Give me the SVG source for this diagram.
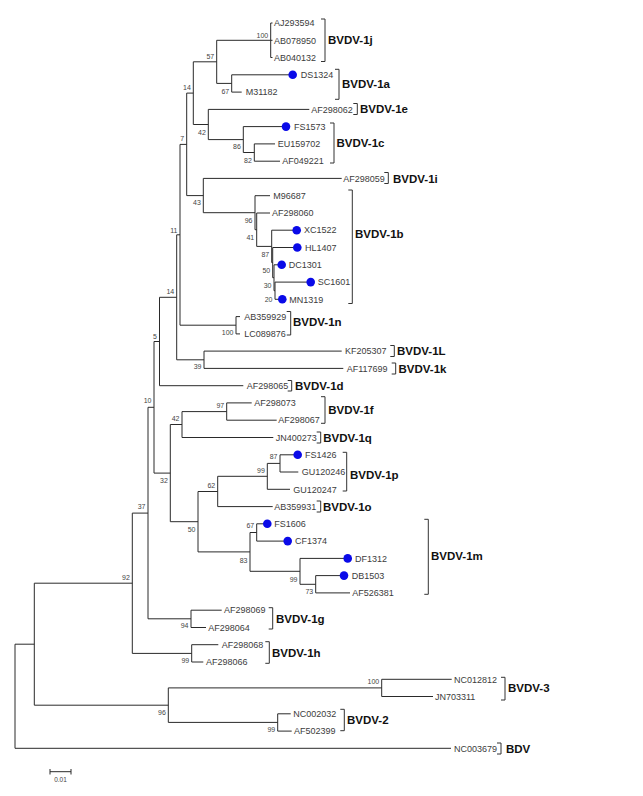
<svg xmlns="http://www.w3.org/2000/svg" width="643" height="796" viewBox="0 0 643 796">
<style>
.br{fill:none;stroke:#2a2a2a;stroke-width:1}
.bk{fill:none;stroke:#333;stroke-width:1}
.lf{font-family:"Liberation Sans",Arial,sans-serif;font-size:9px;fill:#3c3c3c}
.bs{font-family:"Liberation Sans",Arial,sans-serif;font-size:7px;fill:#444;text-anchor:end}
.cl{font-family:"Liberation Sans",Arial,sans-serif;font-size:11.5px;font-weight:bold;fill:#111}
.dot{fill:#0a0ae8}
</style>
<rect width="643" height="796" fill="#fff"/>
<g id="connectors">
<path class="br" d="M15,644.2V748.3M15,644.2H34.3M15,748.3H451
M34.3,583.2V705.2M34.3,583.2H132.3M34.3,705.2H168.3
M168.3,687.9V722.4M168.3,687.9H381.7M168.3,722.4H277.7
M381.7,679.3V696.5M381.7,679.3H451.7M381.7,696.5H433
M277.7,713.8V731.1M277.7,713.8H290.7M277.7,731.1H291.7
M132.3,513.1V653.4M132.3,513.1H148M132.3,653.4H191.7
M191.7,644.7V662M191.7,644.7H218.3M191.7,662H203.3
M148,407.3V618.8M148,407.3H154M148,618.8H191
M191,610.2V627.5M191,610.2H221.7M191,627.5H206
M154,341.5V473.1M154,341.5H159.5M154,473.1H170.3
M170.3,424.5V521.7M170.3,424.5H182M170.3,521.7H198
M182,411.6V437.5M182,411.6H226.7M182,437.5H273.3
M226.7,402.9V420.2M226.7,402.9H251.7M226.7,420.2H276.7
M198,491.5V551.9M198,491.5H217.7M198,551.9H250
M217.7,476.3V506.6M217.7,476.3H267.3M217.7,506.6H272.7
M267.3,463.4V489.3M267.3,463.4H280M267.3,489.3H290
M280,454.8V472M280,454.8H297.7M280,472H298.3
M250,532.5V571.3M250,532.5H256.7M250,571.3H300
M256.7,523.8V541.1M256.7,523.8H267.3M256.7,541.1H287.7
M300,558.4V584.3M300,558.4H347.7M300,584.3H315.7
M315.7,575.6V592.9M315.7,575.6H344M315.7,592.9H350
M159.5,297.3V385.7M159.5,297.3H176.7M159.5,385.7H243.3
M176.7,234.8V359.8M176.7,234.8H180M176.7,359.8H204
M204,351.1V368.4M204,351.1H341.7M204,368.4H343.3
M180,144.4V325.2M180,144.4H186.7M180,325.2H236
M236,316.6V333.9M236,316.6H240M236,333.9H240
M186.7,93.1V195.6M186.7,93.1H193.3M186.7,195.6H203.3
M203.3,178.4V212.7M203.3,178.4H341.7M203.3,212.7H255
M255,195.7V229.7M255,195.7H270M255,229.7H256.7
M256.7,213V246.4M256.7,213H270M256.7,246.4H271.7
M271.7,230.2V262.6M271.7,230.2H296.7M271.7,262.6H272.7
M272.7,247.5V277.7M272.7,247.5H297.3M272.7,277.7H274
M274,264.8V290.7M274,264.8H281.7M274,290.7H275
M275,282.1V299.3M275,282.1H310.7M275,299.3H282.3
M193.3,61.8V124.5M193.3,61.8H216.7M193.3,124.5H208.3
M216.7,40.3V83.4M216.7,40.3H270.7M216.7,83.4H231.7
M270.7,23V57.5M270.7,23H272.5M270.7,40.3H272.5M270.7,57.5H272.5
M231.7,74.8V92.1M231.7,74.8H292.7M231.7,92.1H241.7
M208.3,109.4V139.6M208.3,109.4H309.3M208.3,139.6H243.3
M243.3,126.6V152.5M243.3,126.6H286M243.3,152.5H254.3
M254.3,143.9V161.2M254.3,143.9H275M254.3,161.2H280"/>
</g>
<g id="bootstrap">
<text class="bs" x="268.2" y="38.2">100</text>
<text class="bs" x="214.2" y="59.2">57</text>
<text class="bs" x="229.2" y="94.2">67</text>
<text class="bs" x="190.8" y="90.2">14</text>
<text class="bs" x="205.8" y="135.2">42</text>
<text class="bs" x="240.8" y="149.2">86</text>
<text class="bs" x="251.8" y="163.2">82</text>
<text class="bs" x="184.2" y="140.8">7</text>
<text class="bs" x="200.8" y="205.2">43</text>
<text class="bs" x="252.5" y="222.5">96</text>
<text class="bs" x="254.2" y="239.5">41</text>
<text class="bs" x="269.2" y="256.8">87</text>
<text class="bs" x="270.2" y="272.5">50</text>
<text class="bs" x="271.5" y="288.2">30</text>
<text class="bs" x="272.5" y="301.5">20</text>
<text class="bs" x="177.5" y="232.5">11</text>
<text class="bs" x="174.2" y="293.5">14</text>
<text class="bs" x="233.5" y="335.2">100</text>
<text class="bs" x="201.5" y="369.2">39</text>
<text class="bs" x="157" y="338.5">5</text>
<text class="bs" x="151.5" y="403.2">10</text>
<text class="bs" x="179.5" y="420.8">42</text>
<text class="bs" x="224.2" y="407.5">97</text>
<text class="bs" x="167.8" y="483.2">32</text>
<text class="bs" x="277.5" y="458.5">87</text>
<text class="bs" x="264.8" y="473.2">99</text>
<text class="bs" x="215.2" y="487.5">62</text>
<text class="bs" x="195.5" y="531.8">50</text>
<text class="bs" x="254.2" y="527.5">67</text>
<text class="bs" x="247.5" y="562.5">83</text>
<text class="bs" x="297.5" y="581.5">99</text>
<text class="bs" x="313.2" y="594.2">73</text>
<text class="bs" x="145.5" y="509.2">37</text>
<text class="bs" x="129.8" y="579.5">92</text>
<text class="bs" x="188.5" y="627.5">94</text>
<text class="bs" x="189.2" y="663">99</text>
<text class="bs" x="379.2" y="684.2">100</text>
<text class="bs" x="165.8" y="715.2">96</text>
<text class="bs" x="275.2" y="731.8">99</text>
</g>
<g id="leaves">
<g id="AJ293594"><text class="lf" x="274" y="26.2">AJ293594</text></g>
<g id="AB078950"><text class="lf" x="274" y="43.5">AB078950</text></g>
<g id="AB040132"><text class="lf" x="274" y="60.7">AB040132</text></g>
<g id="DS1324"><circle class="dot" cx="292.7" cy="74.8" r="4.3"/><text class="lf" x="300.7" y="78">DS1324</text></g>
<g id="M31182"><text class="lf" x="245.7" y="95.3">M31182</text></g>
<g id="AF298062"><text class="lf" x="311.3" y="112.6">AF298062</text></g>
<g id="FS1573"><circle class="dot" cx="286" cy="126.6" r="4.3"/><text class="lf" x="294" y="129.8">FS1573</text></g>
<g id="EU159702"><text class="lf" x="277.7" y="147.1">EU159702</text></g>
<g id="AF049221"><text class="lf" x="282.3" y="164.4">AF049221</text></g>
<g id="AF298059"><text class="lf" x="343.3" y="181.6">AF298059</text></g>
<g id="M96687"><text class="lf" x="273.3" y="198.9">M96687</text></g>
<g id="AF298060"><text class="lf" x="272" y="216.2">AF298060</text></g>
<g id="XC1522"><circle class="dot" cx="296.7" cy="230.2" r="4.3"/><text class="lf" x="304" y="233.4">XC1522</text></g>
<g id="HL1407"><circle class="dot" cx="297.3" cy="247.5" r="4.3"/><text class="lf" x="305" y="250.7">HL1407</text></g>
<g id="DC1301"><circle class="dot" cx="281.7" cy="264.8" r="4.3"/><text class="lf" x="288.7" y="268">DC1301</text></g>
<g id="SC1601"><circle class="dot" cx="310.7" cy="282.1" r="4.3"/><text class="lf" x="317.7" y="285.3">SC1601</text></g>
<g id="MN1319"><circle class="dot" cx="282.3" cy="299.3" r="4.3"/><text class="lf" x="289.3" y="302.5">MN1319</text></g>
<g id="AB359929"><text class="lf" x="244.3" y="319.8">AB359929</text></g>
<g id="LC089876"><text class="lf" x="244.3" y="337.1">LC089876</text></g>
<g id="KF205307"><text class="lf" x="345" y="354.3">KF205307</text></g>
<g id="AF117699"><text class="lf" x="346.7" y="371.6">AF117699</text></g>
<g id="AF298065"><text class="lf" x="246.7" y="388.9">AF298065</text></g>
<g id="AF298073"><text class="lf" x="254.3" y="406.1">AF298073</text></g>
<g id="AF298067"><text class="lf" x="278.3" y="423.4">AF298067</text></g>
<g id="JN400273"><text class="lf" x="275.7" y="440.7">JN400273</text></g>
<g id="FS1426"><circle class="dot" cx="297.7" cy="454.8" r="4.3"/><text class="lf" x="305" y="458">FS1426</text></g>
<g id="GU120246"><text class="lf" x="301.7" y="475.2">GU120246</text></g>
<g id="GU120247"><text class="lf" x="293.3" y="492.5">GU120247</text></g>
<g id="AB359931"><text class="lf" x="274.3" y="509.8">AB359931</text></g>
<g id="FS1606"><circle class="dot" cx="267.3" cy="523.8" r="4.3"/><text class="lf" x="274.3" y="527">FS1606</text></g>
<g id="CF1374"><circle class="dot" cx="287.7" cy="541.1" r="4.3"/><text class="lf" x="295" y="544.3">CF1374</text></g>
<g id="DF1312"><circle class="dot" cx="347.7" cy="558.4" r="4.3"/><text class="lf" x="355" y="561.6">DF1312</text></g>
<g id="DB1503"><circle class="dot" cx="344" cy="575.6" r="4.3"/><text class="lf" x="351.7" y="578.8">DB1503</text></g>
<g id="AF526381"><text class="lf" x="352.3" y="596.1">AF526381</text></g>
<g id="AF298069"><text class="lf" x="224" y="613.4">AF298069</text></g>
<g id="AF298064"><text class="lf" x="208.3" y="630.7">AF298064</text></g>
<g id="AF298068"><text class="lf" x="221.7" y="647.9">AF298068</text></g>
<g id="AF298066"><text class="lf" x="206" y="665.2">AF298066</text></g>
<g id="NC012812"><text class="lf" x="454" y="682.5">NC012812</text></g>
<g id="JN703311"><text class="lf" x="435" y="699.7">JN703311</text></g>
<g id="NC002032"><text class="lf" x="293.3" y="717">NC002032</text></g>
<g id="AF502399"><text class="lf" x="294" y="734.3">AF502399</text></g>
<g id="NC003679"><text class="lf" x="454" y="751.5">NC003679</text></g>
</g>
<g id="clades">
<g id="BVDV-1j"><path class="bk" d="M321,19H325V61.5H321"/><text class="cl" x="328" y="44.2">BVDV-1j</text></g>
<g id="BVDV-1a"><path class="bk" d="M335,69.3H339V99.3H335"/><text class="cl" x="342" y="88.2">BVDV-1a</text></g>
<g id="BVDV-1e"><path class="bk" d="M353.3,103.5H357.3V114.5H353.3"/><text class="cl" x="360" y="113.2">BVDV-1e</text></g>
<g id="BVDV-1c"><path class="bk" d="M330,123H334V163H330"/><text class="cl" x="336.5" y="146.5">BVDV-1c</text></g>
<g id="BVDV-1i"><path class="bk" d="M384.3,172.5H388.3V183.5H384.3"/><text class="cl" x="393" y="182.6">BVDV-1i</text></g>
<g id="BVDV-1b"><path class="bk" d="M348.3,190H352.3V303.5H348.3"/><text class="cl" x="355" y="238.2">BVDV-1b</text></g>
<g id="BVDV-1n"><path class="bk" d="M286.7,311.5H290.7V335H286.7"/><text class="cl" x="293" y="326.2">BVDV-1n</text></g>
<g id="BVDV-1L"><path class="bk" d="M390.3,345.5H394.3V356.5H390.3"/><text class="cl" x="397" y="355.2">BVDV-1L</text></g>
<g id="BVDV-1k"><path class="bk" d="M391.7,363H395.7V374H391.7"/><text class="cl" x="398.5" y="372.6">BVDV-1k</text></g>
<g id="BVDV-1d"><path class="bk" d="M287.7,380.5H291.7V391H287.7"/><text class="cl" x="295" y="389.9">BVDV-1d</text></g>
<g id="BVDV-1f"><path class="bk" d="M321,396.7H325V423.3H321"/><text class="cl" x="328.3" y="414.2">BVDV-1f</text></g>
<g id="BVDV-1q"><path class="bk" d="M316.7,432H320.7V443H316.7"/><text class="cl" x="323.3" y="441.7">BVDV-1q</text></g>
<g id="BVDV-1p"><path class="bk" d="M342.7,452.3H346.7V491H342.7"/><text class="cl" x="350" y="479.2">BVDV-1p</text></g>
<g id="BVDV-1o"><path class="bk" d="M316.7,501H320.7V512H316.7"/><text class="cl" x="323" y="510.8">BVDV-1o</text></g>
<g id="BVDV-1m"><path class="bk" d="M424.3,519.3H428.3V594.3H424.3"/><text class="cl" x="431" y="560.2">BVDV-1m</text></g>
<g id="BVDV-1g"><path class="bk" d="M268.7,607.7H272.7V629H268.7"/><text class="cl" x="276" y="622.7">BVDV-1g</text></g>
<g id="BVDV-1h"><path class="bk" d="M265.3,641.7H269.3V663.3H265.3"/><text class="cl" x="272" y="656.7">BVDV-1h</text></g>
<g id="BVDV-3"><path class="bk" d="M501,677.3H505V700H501"/><text class="cl" x="508" y="692.2">BVDV-3</text></g>
<g id="BVDV-2"><path class="bk" d="M340.3,709.3H344.3V730.7H340.3"/><text class="cl" x="347" y="724.2">BVDV-2</text></g>
<g id="BDV"><path class="bk" d="M497,743H501V754H497"/><text class="cl" x="506" y="752.5">BDV</text></g>
</g>
<g id="scale-bar">
<path class="br" d="M50,771.7H71M50,769V774.5M71,769V774.5"/>
<text x="60.5" y="781.5" text-anchor="middle" font-family="Liberation Sans, Arial, sans-serif" font-size="6.5" fill="#444">0.01</text>
</g>
</svg>
